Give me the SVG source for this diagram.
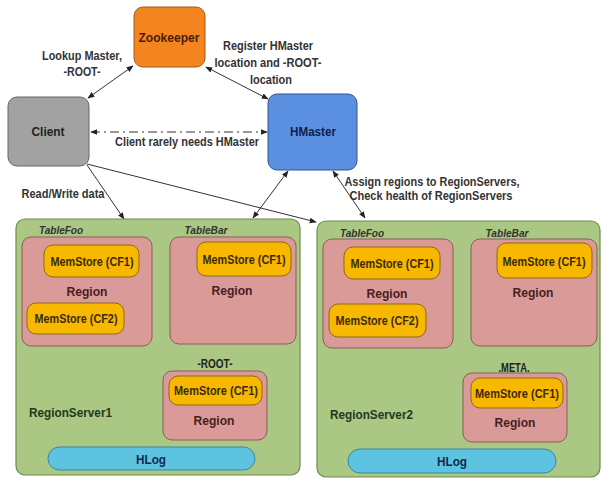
<svg xmlns="http://www.w3.org/2000/svg" width="609" height="482" viewBox="0 0 609 482">
<defs>
<style>
text{font-family:"Liberation Sans",Arial,sans-serif;font-weight:bold;font-size:13.5px;text-anchor:middle;fill:#222}
.lbl{fill:#333;font-size:13px}
.zk{fill:#F4841F;stroke:#A4581A;stroke-width:1}
.cl{fill:#A2A2A2;stroke:#666;stroke-width:1}
.hm{fill:#5B8FE0;stroke:#2F5597;stroke-width:1}
.rs{fill:#AAC784;stroke:#6E8C4C;stroke-width:1.2}
.rg{fill:#D99A98;stroke:#8E5A58;stroke-width:1}
.ms{fill:#F8B800;stroke:#8C6A10;stroke-width:1}
.hl{fill:#5EC3E0;stroke:#3A86A6;stroke-width:1}
.tb{font-style:italic;font-size:11px;fill:#333}
.rt{fill:#4A1E1E}
.mt{fill:#3A2A05;font-size:13px}
.rsn{fill:#24381A;text-anchor:start}
.ln{stroke:#333;stroke-width:1;fill:none}
</style>
<marker id="ah" viewBox="0 0 10 10" refX="9" refY="5" markerWidth="7" markerHeight="7" orient="auto-start-reverse" markerUnits="userSpaceOnUse">
<path d="M0,1 L10,5 L0,9 Z" fill="#222"/>
</marker>
</defs>
<rect width="609" height="482" fill="#fff"/>

<g id="connectors">
<line class="ln" x1="88" y1="98" x2="133" y2="66" marker-start="url(#ah)" marker-end="url(#ah)"/>
<line class="ln" x1="206" y1="67" x2="268" y2="99" marker-start="url(#ah)" marker-end="url(#ah)"/>
<line class="ln" x1="91" y1="132" x2="267" y2="132" stroke-dasharray="9,4,2,4" marker-start="url(#ah)" marker-end="url(#ah)"/>
<line class="ln" x1="87" y1="165" x2="124" y2="219" marker-end="url(#ah)"/>
<line class="ln" x1="87" y1="164" x2="316" y2="222" marker-end="url(#ah)"/>
<line class="ln" x1="288" y1="171" x2="253" y2="218" marker-start="url(#ah)" marker-end="url(#ah)"/>
<line class="ln" x1="333" y1="171" x2="365" y2="218" marker-start="url(#ah)" marker-end="url(#ah)"/>
<text class="lbl" x="82" y="60" textLength="80" lengthAdjust="spacingAndGlyphs">Lookup Master,</text>
<text class="lbl" x="82" y="76" textLength="37" lengthAdjust="spacingAndGlyphs">-ROOT-</text>
<text class="lbl" x="268" y="50" textLength="90" lengthAdjust="spacingAndGlyphs">Register HMaster</text>
<text class="lbl" x="268" y="67" textLength="107" lengthAdjust="spacingAndGlyphs">location and -ROOT-</text>
<text class="lbl" x="271" y="84" textLength="42" lengthAdjust="spacingAndGlyphs">location</text>
<text class="lbl" x="187" y="146" textLength="144" lengthAdjust="spacingAndGlyphs">Client rarely needs HMaster</text>
<text class="lbl" x="63" y="198" textLength="83" lengthAdjust="spacingAndGlyphs">Read/Write data</text>
<text class="lbl" x="432" y="186" textLength="175" lengthAdjust="spacingAndGlyphs">Assign regions to RegionServers,</text>
<text class="lbl" x="431" y="200" textLength="163" lengthAdjust="spacingAndGlyphs">Check health of RegionServers</text>
</g>

<g id="zookeeper">
<rect class="zk" x="134" y="7" width="71" height="60" rx="9"/>
<text x="169" y="42" style="fill:#4A1C05" textLength="61" lengthAdjust="spacingAndGlyphs">Zookeeper</text>
</g>
<g id="client">
<rect class="cl" x="8" y="97" width="81" height="69" rx="9"/>
<text x="48" y="136" textLength="33" lengthAdjust="spacingAndGlyphs">Client</text>
</g>
<g id="hmaster">
<rect class="hm" x="268" y="94" width="89" height="76" rx="9"/>
<text x="313" y="136" style="fill:#0E1F4A" textLength="46" lengthAdjust="spacingAndGlyphs">HMaster</text>
</g>

<g id="regionserver1">
<rect class="rs" x="16" y="219" width="284" height="256" rx="9"/>
<text class="tb" x="61" y="234" textLength="44" lengthAdjust="spacingAndGlyphs">TableFoo</text>
<g id="rs1-tablefoo">
<rect class="rg" x="22" y="237" width="130" height="109" rx="9"/>
<rect class="ms" x="44" y="245" width="95" height="32" rx="9"/>
<text class="mt" x="92" y="266" textLength="83" lengthAdjust="spacingAndGlyphs">MemStore (CF1)</text>
<text class="rt" x="87" y="296" textLength="41" lengthAdjust="spacingAndGlyphs">Region</text>
<rect class="ms" x="27" y="303" width="97" height="31" rx="9"/>
<text class="mt" x="76" y="323" textLength="83" lengthAdjust="spacingAndGlyphs">MemStore (CF2)</text>
</g>
<text class="tb" x="206" y="234" textLength="43" lengthAdjust="spacingAndGlyphs">TableBar</text>
<g id="rs1-tablebar">
<rect class="rg" x="170" y="237" width="126" height="107" rx="9"/>
<rect class="ms" x="197" y="242" width="94" height="34" rx="9"/>
<text class="mt" x="244" y="264" textLength="83" lengthAdjust="spacingAndGlyphs">MemStore (CF1)</text>
<text class="rt" x="232" y="295" textLength="41" lengthAdjust="spacingAndGlyphs">Region</text>
</g>
<text x="215" y="368" style="font-size:12px" textLength="35" lengthAdjust="spacingAndGlyphs">-ROOT-</text>
<g id="rs1-root">
<rect class="rg" x="163" y="371" width="104" height="69" rx="9"/>
<rect class="ms" x="169" y="376" width="93" height="29" rx="9"/>
<text class="mt" x="216" y="395" textLength="84" lengthAdjust="spacingAndGlyphs">MemStore (CF1)</text>
<text class="rt" x="214" y="425" textLength="41" lengthAdjust="spacingAndGlyphs">Region</text>
</g>
<text class="rsn" x="29" y="417" textLength="83" lengthAdjust="spacingAndGlyphs">RegionServer1</text>
<g id="rs1-hlog">
<rect class="hl" x="48" y="447" width="207" height="23" rx="11.5"/>
<text x="151" y="464" style="fill:#0E2A48" textLength="30" lengthAdjust="spacingAndGlyphs">HLog</text>
</g>
</g>

<g id="regionserver2">
<rect class="rs" x="317" y="221" width="283" height="256" rx="9"/>
<text class="tb" x="362" y="237" textLength="44" lengthAdjust="spacingAndGlyphs">TableFoo</text>
<g id="rs2-tablefoo">
<rect class="rg" x="323" y="239" width="130" height="109" rx="9"/>
<rect class="ms" x="344" y="247" width="96" height="32" rx="9"/>
<text class="mt" x="392" y="268" textLength="83" lengthAdjust="spacingAndGlyphs">MemStore (CF1)</text>
<text class="rt" x="387" y="298" textLength="41" lengthAdjust="spacingAndGlyphs">Region</text>
<rect class="ms" x="329" y="304" width="97" height="33" rx="9"/>
<text class="mt" x="377" y="325" textLength="83" lengthAdjust="spacingAndGlyphs">MemStore (CF2)</text>
</g>
<text class="tb" x="507" y="237" textLength="43" lengthAdjust="spacingAndGlyphs">TableBar</text>
<g id="rs2-tablebar">
<rect class="rg" x="471" y="239" width="126" height="107" rx="9"/>
<rect class="ms" x="497" y="243" width="95" height="35" rx="9"/>
<text class="mt" x="544" y="266" textLength="83" lengthAdjust="spacingAndGlyphs">MemStore (CF1)</text>
<text class="rt" x="533" y="297" textLength="41" lengthAdjust="spacingAndGlyphs">Region</text>
</g>
<text x="514" y="372" style="font-size:12px" textLength="31" lengthAdjust="spacingAndGlyphs">.META.</text>
<g id="rs2-meta">
<rect class="rg" x="463" y="373" width="104" height="69" rx="9"/>
<rect class="ms" x="471" y="378" width="92" height="30" rx="9"/>
<text class="mt" x="517" y="398" textLength="84" lengthAdjust="spacingAndGlyphs">MemStore (CF1)</text>
<text class="rt" x="515" y="427" textLength="41" lengthAdjust="spacingAndGlyphs">Region</text>
</g>
<text class="rsn" x="330" y="419" textLength="83" lengthAdjust="spacingAndGlyphs">RegionServer2</text>
<g id="rs2-hlog">
<rect class="hl" x="348" y="449" width="208" height="24" rx="12"/>
<text x="452" y="466" style="fill:#0E2A48" textLength="30" lengthAdjust="spacingAndGlyphs">HLog</text>
</g>
</g>
</svg>
